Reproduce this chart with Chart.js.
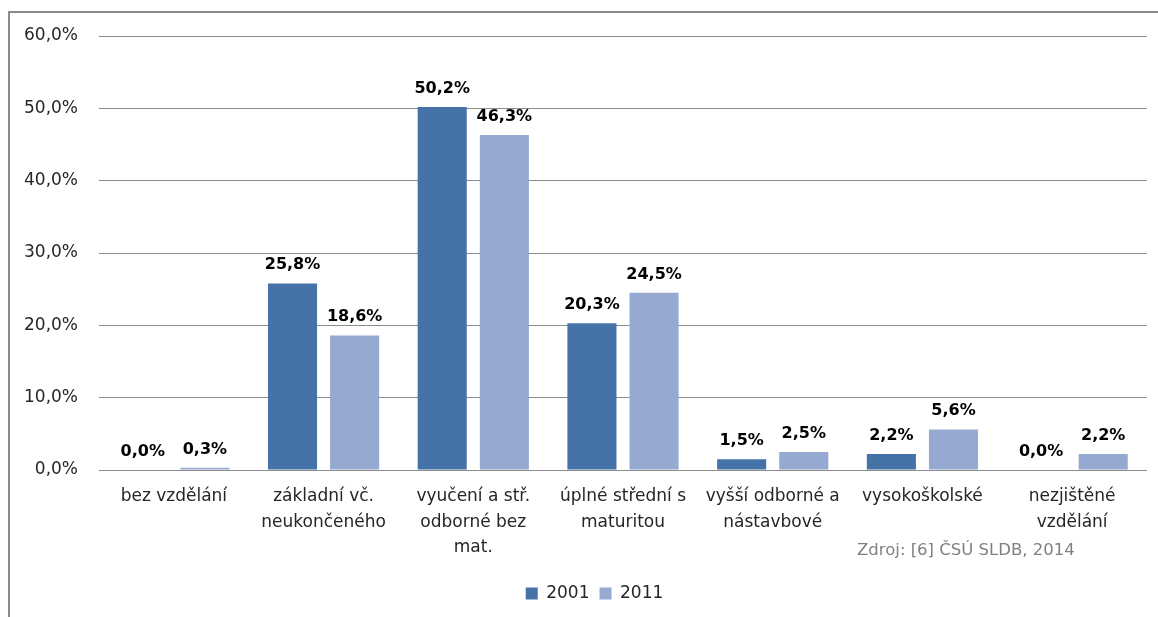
<!DOCTYPE html>
<html>
<head>
<meta charset="utf-8">
<script src="https://cdn.jsdelivr.net/npm/chart.js@4/dist/chart.umd.min.js"></script>
<style>
  html, body { margin: 0; padding: 0; background: #ffffff; }
  #wrap { position: relative; width: 1158px; height: 617px; overflow: hidden; }
  #frame { position: absolute; left: 8px; top: 11px; width: 1200px; height: 700px;
           border-top: 2px solid #8a8a8a; border-left: 2px solid #8a8a8a; box-sizing: border-box; }
  canvas { position: absolute; left: 0; top: 0; }
  #source { position: absolute; left: 857px; top: 540px; font-family: "DejaVu Sans", sans-serif;
            font-size: 16.5px; line-height: 20px; color: #808080; white-space: nowrap; }
</style>
</head>
<body>
<div id="wrap">
  <div id="frame"></div>
  <canvas id="c" width="1158" height="617"></canvas>
  <div id="source">Zdroj: [6] ČSÚ SLDB, 2014</div>
</div>
<script>
const categories = [
  "bez vzdělání",
  ["základní vč.", "neukončeného"],
  ["vyučení a stř.", "odborné bez", "mat."],
  ["úplné střední s", "maturitou"],
  ["vyšší odborné a", "nástavbové"],
  "vysokoškolské",
  ["nezjištěné", "vzdělání"]
];
const seriesNames = ["2001", "2011"];
const values2001 = [0.0, 25.8, 50.2, 20.3, 1.5, 2.2, 0.0];
const values2011 = [0.3, 18.6, 46.3, 24.5, 2.5, 5.6, 2.2];
const yTicks = [0, 10, 20, 30, 40, 50, 60];

const fmt = v => v.toFixed(1).replace('.', ',') + '%';

const dataLabels = {
  id: 'dataLabels',
  afterDatasetsDraw(chart) {
    const ctx = chart.ctx;
    ctx.save();
    ctx.font = 'bold 16px "DejaVu Sans", sans-serif';
    ctx.fillStyle = '#000000';
    ctx.textAlign = 'center';
    ctx.textBaseline = 'alphabetic';
    chart.data.datasets.forEach((ds, di) => {
      const meta = chart.getDatasetMeta(di);
      meta.data.forEach((bar, i) => {
        ctx.fillText(fmt(ds.data[i]), bar.x, bar.y - 14);
      });
    });
    ctx.restore();
  }
};

// shift the legend so that it is centred where the reference has it
const legendShift = {
  id: 'legendShift',
  afterLayout(chart) {
    if (chart.legend) {
      chart.legend.left += 21;
      chart.legend.right += 21;
    }
  }
};

new Chart(document.getElementById('c'), {
  type: 'bar',
  data: {
    labels: categories,
    datasets: [
      { label: seriesNames[0], data: values2001, backgroundColor: '#4572a7', borderWidth: 0,
        categoryPercentage: 0.83, barPercentage: 0.79 },
      { label: seriesNames[1], data: values2011, backgroundColor: '#95a9d1', borderWidth: 0,
        categoryPercentage: 0.83, barPercentage: 0.79 }
    ]
  },
  options: {
    responsive: false,
    animation: false,
    devicePixelRatio: 1,
    layout: { padding: { left: 0, right: 11, top: 36, bottom: 5 } },
    plugins: {
      legend: {
        position: 'bottom',
        labels: {
          boxWidth: 12, boxHeight: 12, padding: 10,
          font: { family: '"DejaVu Sans", sans-serif', size: 17 },
          color: '#262626'
        }
      },
      tooltip: { enabled: false },
      title: { display: false }
    },
    scales: {
      x: {
        grid: { display: false, drawTicks: false },
        border: { display: false },
        ticks: {
          padding: 14,
          maxRotation: 0, minRotation: 0, autoSkip: false,
          font: { family: '"DejaVu Sans", sans-serif', size: 17, lineHeight: 1.5 },
          color: '#262626'
        },
        afterFit(scale) { scale.height = 105; }
      },
      y: {
        min: 0, max: 60,
        afterBuildTicks(scale) { scale.ticks = yTicks.map(v => ({ value: v })); },
        grid: { color: '#8c8c8c', lineWidth: 1, drawTicks: false },
        border: { display: false },
        ticks: {
          padding: 21,
          font: { family: '"DejaVu Sans", sans-serif', size: 17 },
          color: '#262626',
          callback: v => fmt(v)
        },
        afterFit(scale) { scale.width = 99; }
      }
    }
  },
  plugins: [dataLabels, legendShift]
});
</script>
</body>
</html>
